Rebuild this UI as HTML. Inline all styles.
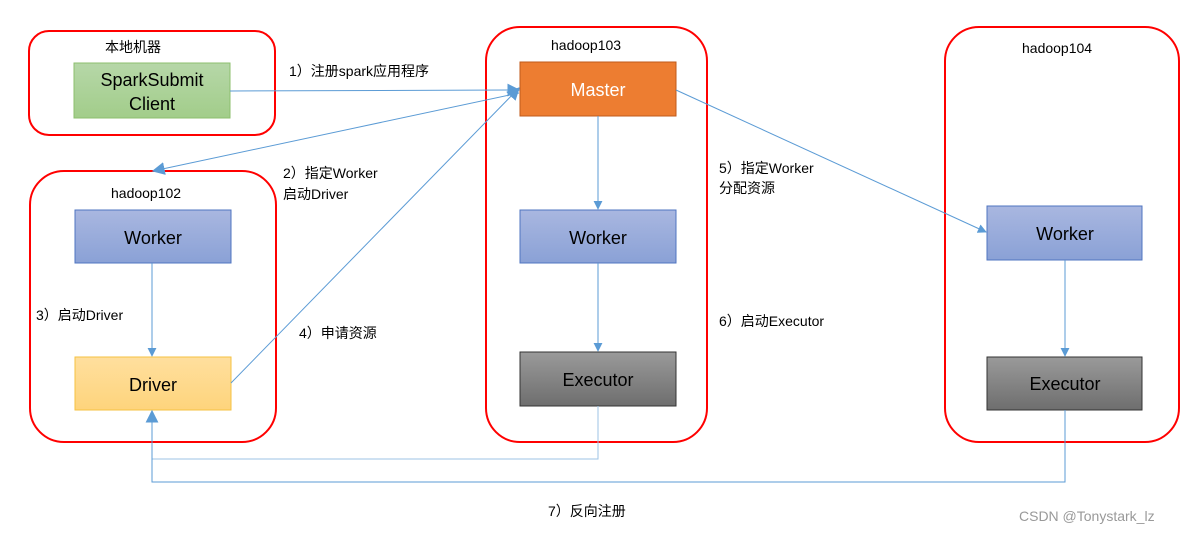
<!DOCTYPE html>
<html><head><meta charset="utf-8"><style>
html,body{margin:0;padding:0;background:#fff;}
svg{display:block;font-family:"Liberation Sans","Noto Sans CJK SC",sans-serif;}
</style></head><body>
<svg width="1197" height="534" viewBox="0 0 1197 534" xmlns="http://www.w3.org/2000/svg">
<defs>
<linearGradient id="gg" x1="0" y1="0" x2="0" y2="1"><stop offset="0" stop-color="#b6d7a8"/><stop offset="1" stop-color="#a2cd8a"/></linearGradient>
<linearGradient id="bg" x1="0" y1="0" x2="0" y2="1"><stop offset="0" stop-color="#a9b7e0"/><stop offset="1" stop-color="#8aa1d6"/></linearGradient>
<linearGradient id="yg" x1="0" y1="0" x2="0" y2="1"><stop offset="0" stop-color="#ffdf9e"/><stop offset="1" stop-color="#fed47c"/></linearGradient>
<linearGradient id="kg" x1="0" y1="0" x2="0" y2="1"><stop offset="0" stop-color="#9a9a9a"/><stop offset="1" stop-color="#6e6e6e"/></linearGradient>
<marker id="a" viewBox="0 0 10 10" refX="9" refY="5" markerWidth="9" markerHeight="9" markerUnits="userSpaceOnUse" orient="auto"><path d="M0,0L10,5L0,10z" fill="#5b9bd5"/></marker>
<marker id="A" viewBox="0 0 10 10" refX="9" refY="5" markerWidth="13" markerHeight="13" markerUnits="userSpaceOnUse" orient="auto"><path d="M0,0L10,5L0,10z" fill="#5b9bd5"/></marker>
</defs>
<g fill="none" stroke="#ff0000" stroke-width="2">
<rect x="29" y="31" width="246" height="104" rx="20"/>
<rect x="30" y="171" width="246" height="271" rx="34"/>
<rect x="486" y="27" width="221" height="415" rx="34"/>
<rect x="945" y="27" width="234" height="415" rx="34"/>
</g>
<g font-size="14" fill="#000">
<text x="105" y="52">本地机器</text>
<text x="111" y="198">hadoop102</text>
<text x="551" y="50">hadoop103</text>
<text x="1022" y="53">hadoop104</text>
</g>
<rect x="74" y="63" width="156" height="55" fill="url(#gg)" stroke="#8cbf6e"/>
<rect x="75" y="210" width="156" height="53" fill="url(#bg)" stroke="#4f74c0"/>
<rect x="75" y="357" width="156" height="53" fill="url(#yg)" stroke="#f5c242"/>
<rect x="520" y="62" width="156" height="54" fill="#ed7d31" stroke="#c05a1a"/>
<rect x="520" y="210" width="156" height="53" fill="url(#bg)" stroke="#4f74c0"/>
<rect x="520" y="352" width="156" height="54" fill="url(#kg)" stroke="#333"/>
<rect x="987" y="206" width="155" height="54" fill="url(#bg)" stroke="#4f74c0"/>
<rect x="987" y="357" width="155" height="53" fill="url(#kg)" stroke="#333"/>
<g font-size="18" text-anchor="middle" fill="#000">
<text x="152" y="86">SparkSubmit</text>
<text x="152" y="110">Client</text>
<text x="153" y="244">Worker</text>
<text x="153" y="391">Driver</text>
<text x="598" y="96" fill="#fff">Master</text>
<text x="598" y="244">Worker</text>
<text x="598" y="386">Executor</text>
<text x="1065" y="240">Worker</text>
<text x="1065" y="390">Executor</text>
</g>
<g fill="none" stroke="#5b9bd5" stroke-width="1">
<line x1="230" y1="91" x2="519" y2="90" marker-end="url(#A)"/>
<line x1="519" y1="93" x2="153" y2="171" marker-end="url(#A)"/>
<line x1="231" y1="383" x2="519" y2="88" marker-end="url(#A)"/>
<line x1="676" y1="90" x2="986" y2="232" marker-end="url(#a)"/>
<line x1="598" y1="116" x2="598" y2="209" marker-end="url(#a)"/>
<line x1="598" y1="263" x2="598" y2="351" marker-end="url(#a)"/>
<line x1="1065" y1="260" x2="1065" y2="356" marker-end="url(#a)"/>
<line x1="152" y1="263" x2="152" y2="356" marker-end="url(#a)"/>
<polyline points="598,406 598,459 152,459" stroke="#9dc3e6"/>
<polyline points="1065,410 1065,482 152,482 152,411" marker-end="url(#A)"/>
</g>
<g font-size="14" fill="#000">
<text x="289" y="76">1）注册spark应用程序</text>
<text x="283" y="178">2）指定Worker</text>
<text x="283" y="199">启动Driver</text>
<text x="36" y="320">3）启动Driver</text>
<text x="299" y="338">4）申请资源</text>
<text x="719" y="173">5）指定Worker</text>
<text x="719" y="193">分配资源</text>
<text x="719" y="326">6）启动Executor</text>
<text x="548" y="516">7）反向注册</text>
<text x="1019" y="521" fill="#999" font-size="14">CSDN @Tonystark_lz</text>
</g>
</svg>
</body></html>
